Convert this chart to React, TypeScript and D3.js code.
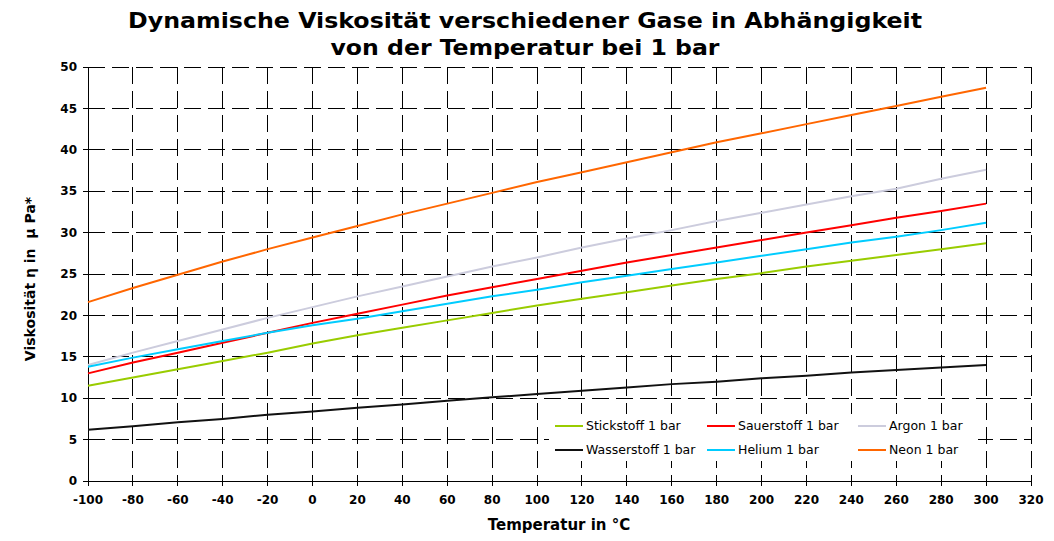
import { scaleLinear, line as d3_line } from "d3"

// x-Werte (Temperatur in °C)
const temps = [-100, -80, -60, -40, -20, 0, 20, 40, 60, 80, 100, 120, 140, 160, 180, 200, 220, 240, 260, 280, 300]

// Viskosität in µPa*s
const stickstoff = [11.5, 12.5, 13.5, 14.5, 15.5, 16.6, 17.6, 18.5, 19.4, 20.3, 21.2, 22.0, 22.8, 23.6, 24.4, 25.1, 25.9, 26.6, 27.3, 28.0, 28.7]
const sauerstoff = [13.0, 14.3, 15.5, 16.7, 17.9, 19.1, 20.2, 21.3, 22.4, 23.4, 24.4, 25.4, 26.4, 27.3, 28.2, 29.1, 30.0, 30.9, 31.8, 32.6, 33.5]
const argon = [14.0, 15.5, 16.9, 18.3, 19.7, 21.0, 22.3, 23.5, 24.7, 25.9, 27.0, 28.2, 29.3, 30.3, 31.4, 32.4, 33.4, 34.4, 35.3, 36.5, 37.6]
const wasserstoff = [6.2, 6.6, 7.1, 7.5, 8.0, 8.4, 8.85, 9.25, 9.7, 10.1, 10.5, 10.9, 11.3, 11.7, 12.0, 12.4, 12.7, 13.1, 13.4, 13.7, 14.0]
const helium = [13.8, 14.9, 15.9, 16.9, 17.9, 18.8, 19.6, 20.5, 21.4, 22.3, 23.1, 24.0, 24.8, 25.6, 26.4, 27.2, 28.0, 28.8, 29.5, 30.3, 31.2]
const neon = [21.6, 23.3, 24.9, 26.5, 28.0, 29.4, 30.8, 32.2, 33.5, 34.8, 36.1, 37.3, 38.5, 39.7, 40.9, 42.0, 43.1, 44.2, 45.3, 46.4, 47.5]

const xTicks = [-100, -80, -60, -40, -20, 0, 20, 40, 60, 80, 100, 120, 140, 160, 180, 200, 220, 240, 260, 280, 300, 320]
const yTicks = [0, 5, 10, 15, 20, 25, 30, 35, 40, 45, 50]

const series = [
  { name: "Stickstoff 1 bar", values: stickstoff, color: "#99CC00" },
  { name: "Sauerstoff 1 bar", values: sauerstoff, color: "#FF0000" },
  { name: "Argon 1 bar", values: argon, color: "#CCCCDD" },
  { name: "Wasserstoff 1 bar", values: wasserstoff, color: "#111111" },
  { name: "Helium 1 bar", values: helium, color: "#00CCFF" },
  { name: "Neon 1 bar", values: neon, color: "#FF6600" },
]

const W = 1054
const H = 541
const left = 88
const right = 1031
const top = 67
const bottom = 481

const font = "Verdana, 'DejaVu Sans', sans-serif"
const dash = "17,7"

export default function App() {
  const x = scaleLinear().domain([-100, 320]).range([left, right])
  const y = scaleLinear().domain([0, 50]).range([bottom, top])

  const line = d3_line<number>()
    .x((_, i) => x(temps[i]))
    .y((d) => y(d))

  // Legende: 2 Zeilen, 3 Spalten
  const legX = [555, 707, 858]
  const legY = [426, 450]

  return (
    <svg
      width={W}
      height={H}
      style={{ position: "absolute", left: 0, top: 0, background: "#fff" }}
      fontFamily={font}
    >
      {/* Titel */}
      <text x={525} y={28} textAnchor="middle" fontSize={22} fontWeight="bold" textLength={794} lengthAdjust="spacingAndGlyphs" fontFamily="'DejaVu Sans Condensed', 'DejaVu Sans', sans-serif">
        Dynamische Viskosität verschiedener Gase in Abhängigkeit
      </text>
      <text x={525} y={55} textAnchor="middle" fontSize={22} fontWeight="bold" textLength={389} lengthAdjust="spacingAndGlyphs" fontFamily="'DejaVu Sans Condensed', 'DejaVu Sans', sans-serif">
        von der Temperatur bei 1 bar
      </text>

      {/* Gitter */}
      {yTicks.map((t) => (
        <line key={"gy" + t} x1={left} x2={right} y1={y(t)} y2={y(t)} stroke="#000" strokeDasharray={dash} strokeWidth={1} shapeRendering="crispEdges" />
      ))}
      {xTicks.map((t) => (
        <line key={"gx" + t} x1={x(t)} x2={x(t)} y1={top} y2={bottom} stroke="#000" strokeDasharray={dash} strokeWidth={1} shapeRendering="crispEdges" />
      ))}

      {/* Achsen */}
      <line x1={left} x2={left} y1={top} y2={bottom} stroke="#000" shapeRendering="crispEdges" />
      <line x1={left} x2={right} y1={bottom} y2={bottom} stroke="#000" shapeRendering="crispEdges" />
      {yTicks.map((t) => (
        <g key={"ty" + t}>
          <line x1={left - 5} x2={left} y1={y(t)} y2={y(t)} stroke="#000" shapeRendering="crispEdges" />
          <text x={left - 11} y={y(t)} dy="0.35em" textAnchor="end" fontSize={12} fontWeight="bold">
            {t}
          </text>
        </g>
      ))}
      {xTicks.map((t) => (
        <g key={"tx" + t}>
          <line x1={x(t)} x2={x(t)} y1={bottom} y2={bottom + 5} stroke="#000" shapeRendering="crispEdges" />
          <text x={x(t)} y={504} textAnchor="middle" fontSize={12} fontWeight="bold">
            {t}
          </text>
        </g>
      ))}

      {/* Achsentitel */}
      <text x={559} y={530} textAnchor="middle" fontSize={15} fontWeight="bold">
        Temperatur in °C
      </text>
      <text transform="translate(35,279) rotate(-90)" textAnchor="middle" fontSize={14} fontWeight="bold">
        {"Viskosität η in \u00a0μ Pa*"}
      </text>

      {/* Kurven */}
      {series.map((s) => (
        <path key={s.name} d={line(s.values) ?? ""} fill="none" stroke={s.color} strokeWidth={2} />
      ))}

      {/* Legende */}
      <rect x={549} y={414} width={429} height={47} fill="#fff" />
      {series.map((s, i) => {
        const cx = legX[i % 3]
        const cy = legY[Math.floor(i / 3)]
        return (
          <g key={"l" + s.name}>
            <line x1={cx} x2={cx + 28} y1={cy} y2={cy} stroke={s.color} strokeWidth={2} />
            <text x={cx + 31} y={cy} dy="0.35em" fontSize={12.5}>
              {s.name}
            </text>
          </g>
        )
      })}
    </svg>
  )
}
